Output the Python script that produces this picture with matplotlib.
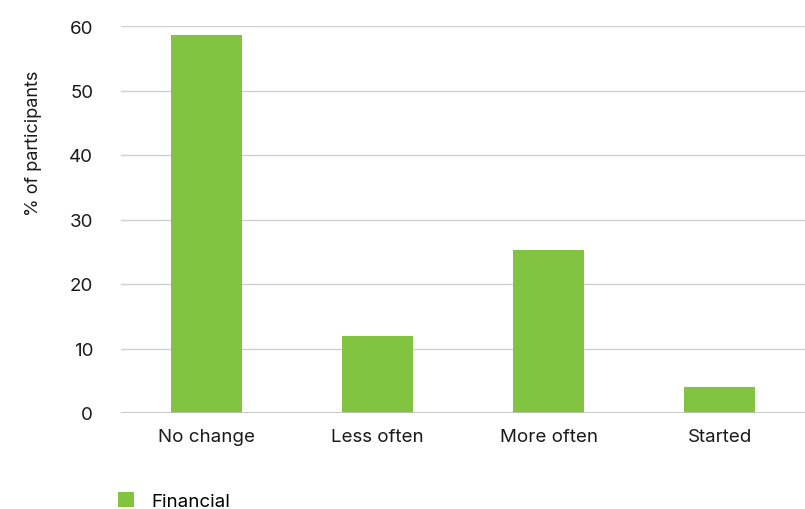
import matplotlib
matplotlib.use("Agg")
import matplotlib.pyplot as plt
from matplotlib.patches import Patch

categories = ["No change", "Less often", "More often", "Started"]
financial = [58.6, 11.9, 25.3, 4.0]
yticks = [0, 10, 20, 30, 40, 50, 60]
series_name = "Financial"

plt.rcParams['font.family'] = ['Inter', 'DejaVu Sans']
green = "#82C341"

fig = plt.figure(figsize=(8.05, 5.10), dpi=100)
ax = fig.add_axes([121/805, 1-414/510, 684/805, (414-27)/510])
x = range(len(categories))
ax.bar(x, financial, width=0.415, color=green, zorder=3)
ax.set_xlim(-0.5, len(categories)-0.5)
ax.set_ylim(0, 60)
ax.set_yticks(yticks)
ax.set_yticklabels([str(t) for t in yticks])
ax.set_xticks(list(x))
ax.set_xticklabels(categories)
ax.grid(axis='y', color='#d0d0d0', linewidth=1, zorder=0)
for s in ax.spines.values():
    s.set_visible(False)
ax.axhline(0, color='#c0c0c0', linewidth=1.2, zorder=4)
ax.tick_params(axis='both', length=0, labelsize=13.5, colors='#1a1a1a')
ax.tick_params(axis='y', pad=20)
ax.tick_params(axis='x', pad=11)
ax.set_ylabel("% of participants", fontsize=13, color='#1a1a1a')
ax.yaxis.set_label_coords(-0.115, 0.70)

fig.legend(handles=[Patch(facecolor=green, label=series_name)],
           loc='lower left', bbox_to_anchor=(118/805, -1/510), borderaxespad=0,
           borderpad=0, frameon=False, fontsize=13.5, handlelength=0.85,
           handleheight=0.85, handletextpad=0.95)

fig.savefig("out.png", dpi=100)
